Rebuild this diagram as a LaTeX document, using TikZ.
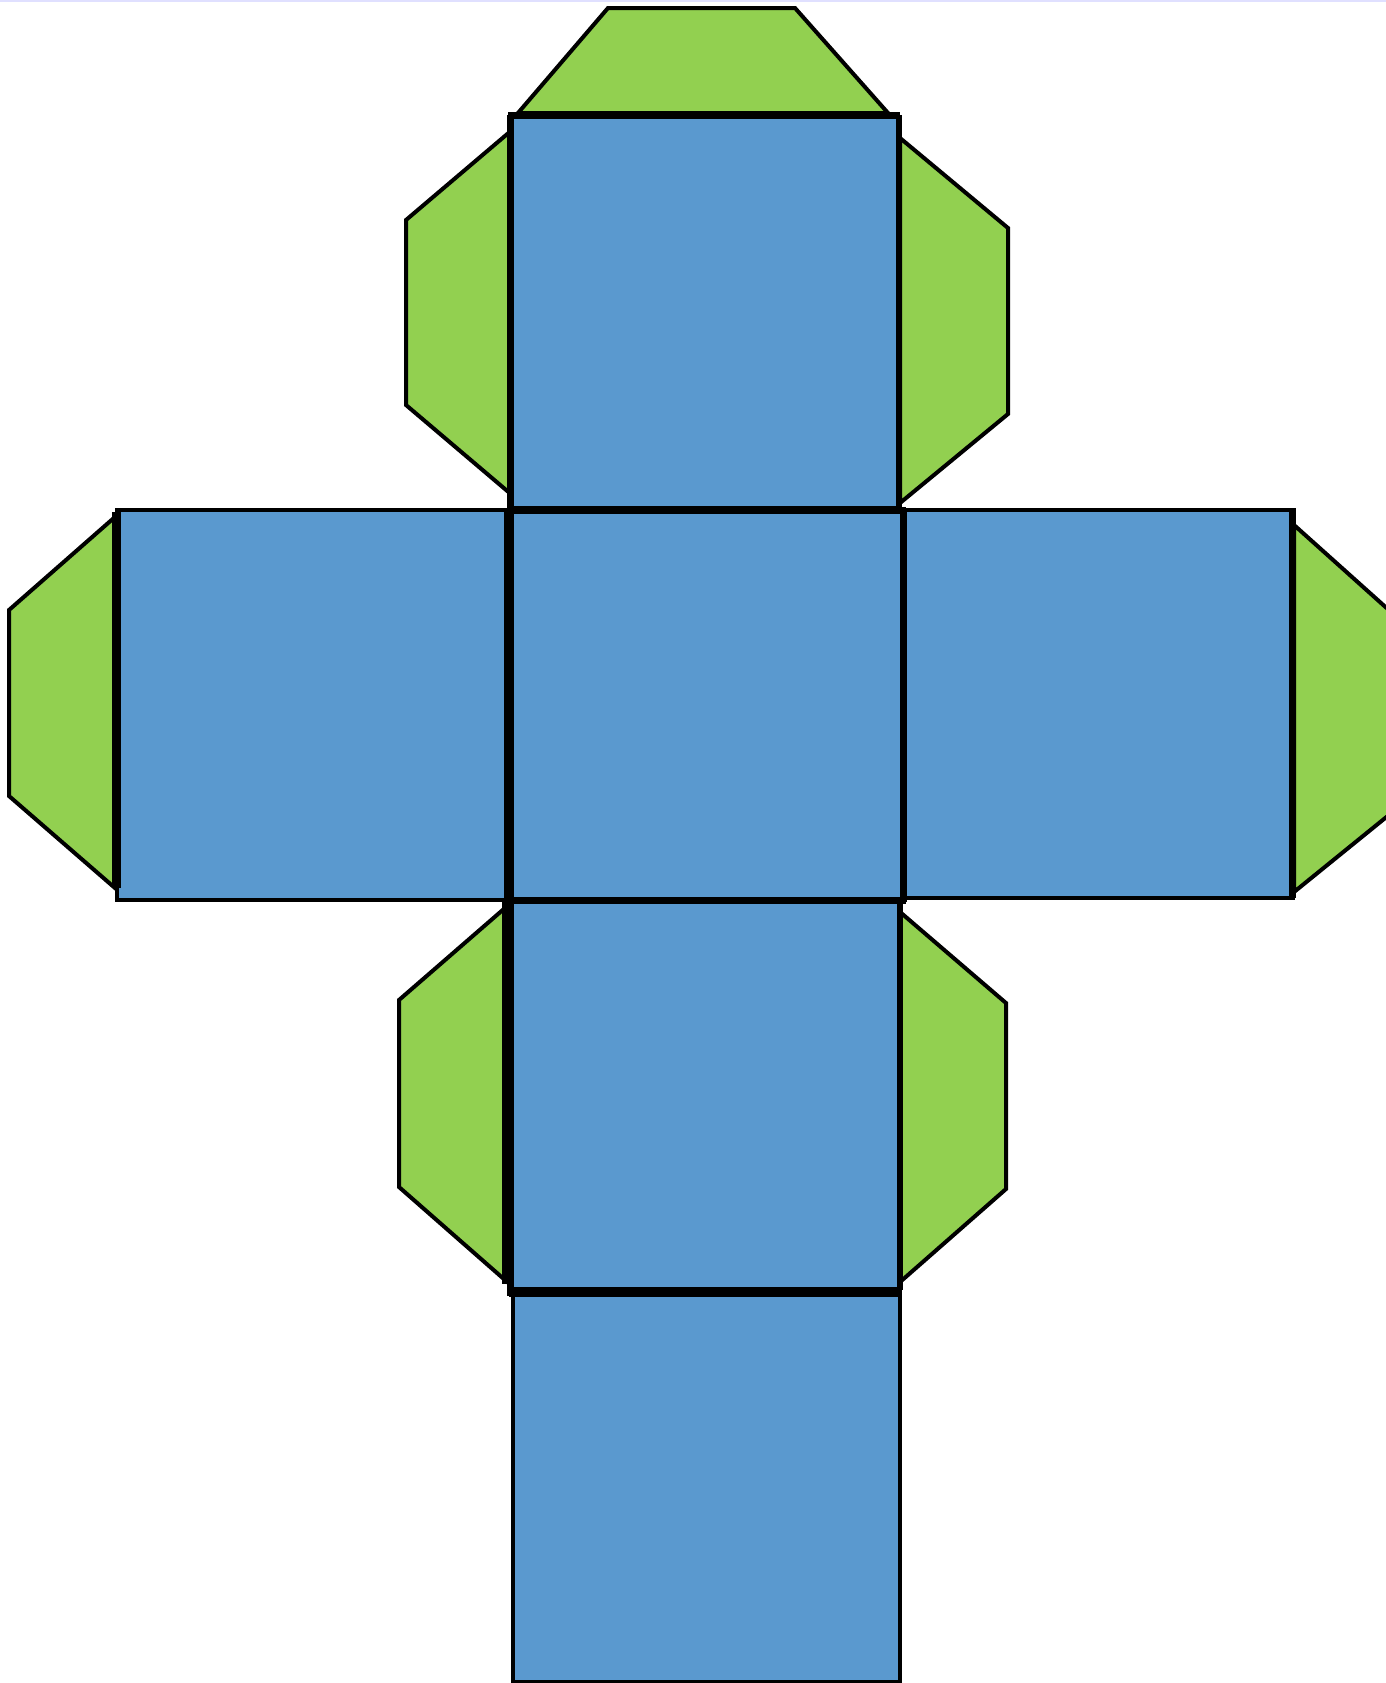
\documentclass[tikz,border=0pt]{standalone}
\begin{document}
\begin{tikzpicture}[x=0.5pt,y=-0.5pt,
  face/.style={draw=black,fill=faceblue,line width=2.2pt,line join=miter},
  flap/.style={draw=black,fill=flapgreen,line width=2pt,line join=miter},
  heavy/.style={draw=black,line width=#1,line cap=butt}]
\definecolor{faceblue}{HTML}{5A99CF}
\definecolor{flapgreen}{HTML}{92D050}
\useasboundingbox (0,0) rectangle (1386,1683);
\fill[white] (0,0) rectangle (1386,1683);
\fill[blue!12] (0,0) rectangle (1386,2);
% flaps
\draw[flap] (518,113) -- (608,8) -- (795,8) -- (888,113) -- cycle;
\draw[flap] (512,130) -- (406,220) -- (406,405) -- (512,495) -- cycle;
\draw[flap] (900,138) -- (1008,228) -- (1008,414) -- (900,503) -- cycle;
\draw[flap] (115,517) -- (9,610) -- (9,796) -- (115,888) -- cycle;
\draw[flap] (1294,525) -- (1400,620) -- (1400,806) -- (1294,892) -- cycle;
\draw[flap] (505,908) -- (399,1000) -- (399,1187) -- (505,1280) -- cycle;
\draw[flap] (900,912) -- (1006,1003) -- (1006,1189) -- (900,1282) -- cycle;
% faces
\draw[face] (511,117) rectangle (899,508);
\draw[face] (117,510) rectangle (510,900);
\draw[face] (512,510) rectangle (902,900);
\draw[face] (904,510) rectangle (1293,898);
\draw[face] (512,900) rectangle (899,1292);
\draw[face] (513,1294) rectangle (900,1682);
% heavy fold lines
\draw[heavy=3.2pt] (508,115.5) -- (900,115.5);
\draw[heavy=3.5pt] (510.5,115) -- (510.5,510);
\draw[heavy=2.8pt] (899,115) -- (899,510);
\draw[heavy=3.5pt] (507,510) -- (906,510);
\draw[heavy=4.5pt] (116.5,512) -- (116.5,888);
\draw[heavy=5pt] (509,508) -- (509,902);
\draw[heavy=3.5pt] (903.5,508) -- (903.5,902);
\draw[heavy=3.5pt] (505,900) -- (906,900);
\draw[heavy=6pt] (508,900) -- (508,1284);
\draw[heavy=3.5pt] (510.5,1284) -- (510.5,1296);
\draw[heavy=3pt] (900,900) -- (900,1290);
\draw[heavy=5pt] (508.5,1292) -- (902,1292);
\draw[heavy=3.5pt] (1292.5,508) -- (1292.5,898);
\end{tikzpicture}
\end{document}
